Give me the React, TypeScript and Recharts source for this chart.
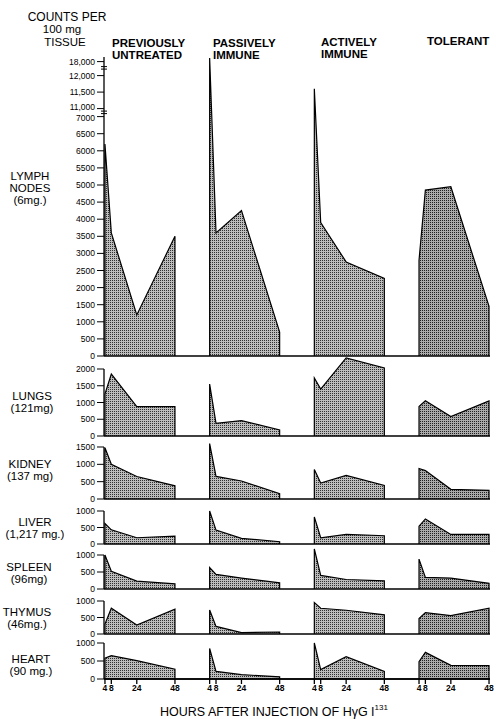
import React from 'react';
import { AreaChart, Area, XAxis, YAxis, ReferenceLine } from 'recharts';

// ---------- data ----------
const hours = [4, 8, 24, 48];
const hourLabels = ['4', '8', '24', '48'];
const groupTitles = [['PREVIOUSLY', 'UNTREATED'], ['PASSIVELY', 'IMMUNE'], ['ACTIVELY', 'IMMUNE'], ['TOLERANT']];

// each organ: [previously untreated, passively immune, actively immune, tolerant] at hours 4, 8, 24, 48
const lymphNodes = [
  [6200, 3600, 1200, 3500],
  [19500, 3600, 4250, 700],
  [11600, 3900, 2750, 2270],
  [2800, 4850, 4950, 1450],
];
const lungs = [
  [1250, 1850, 875, 875],
  [1550, 380, 460, 180],
  [1730, 1400, 2330, 2030],
  [880, 1050, 580, 1050],
];
const kidney = [
  [1480, 1000, 650, 380],
  [1600, 650, 520, 150],
  [850, 460, 680, 390],
  [880, 820, 280, 250],
];
const liver = [
  [620, 430, 190, 240],
  [1000, 420, 170, 70],
  [820, 190, 290, 250],
  [540, 760, 290, 290],
];
const spleen = [
  [1000, 520, 230, 150],
  [630, 430, 320, 180],
  [1180, 400, 280, 240],
  [880, 340, 320, 165],
];
const thymus = [
  [300, 780, 270, 750],
  [730, 230, 40, 60],
  [950, 780, 720, 580],
  [470, 650, 560, 780],
];
const heart = [
  [580, 650, 510, 270],
  [850, 210, 120, 60],
  [1000, 260, 620, 210],
  [480, 740, 380, 370],
];

const lymphTicksRaw = [0, 500, 1000, 1500, 2000, 2500, 3000, 3500, 4000, 4500, 5000, 5500, 6000, 6500, 7000, 11000, 11500, 12000, 18000];
const lymphTickLabels = ['0', '500', '1000', '1500', '2000', '2500', '3000', '3500', '4000', '4500', '5000', '5500', '6000', '6500', '7000', '11,000', '11,500', '12,000', '18,000'];
const lymphAxisTopRaw = 20000;
const lungsTicks = [0, 500, 1000, 1500, 2000];
const kidneyTicks = [0, 500, 1000, 1500];
const smallTicks = [0, 500, 1000];

const organLabels = [
  ['LYMPH', 'NODES', '(6mg.)'],
  ['LUNGS', '(121mg)'],
  ['KIDNEY', '(137 mg)'],
  ['LIVER', '(1,217 mg.)'],
  ['SPLEEN', '(96mg)'],
  ['THYMUS', '(46mg.)'],
  ['HEART', '(90 mg.)'],
];

// ---------- layout ----------
const W = 496;
const H = 719;
const FONT = 'Liberation Sans, Arial, sans-serif';
const PLOT_LEFT = 104;
const PLOT_RIGHT = 490;
const PX_PER_H = 1.591;
const GROUP_SPAN = 65.8;
const X0 = 3.4;
const X1 = X0 + (PLOT_RIGHT - PLOT_LEFT) / PX_PER_H;

// broken lymph-node axis: 0-7000 | 11,000-12,000 | 18,000+
function lymphAxis(v: number): number {
  if (v <= 7000) return v;
  if (v <= 12000) return 7234 + (v - 11000) * 0.965;
  return 8199 + (v - 12000) * 0.0682;
}
const ident = (v: number) => v;

const rowLayout = [
  { top: 48, base: 356, unitPx: 0.0342, labelX: 30, labelY: [180, 192, 204] },
  { top: 355, base: 436, unitPx: 0.0335, labelX: 32, labelY: [400, 412] },
  { top: 440, base: 499, unitPx: 0.03467, labelX: 30, labelY: [468, 480] },
  { top: 505, base: 544, unitPx: 0.033, labelX: 35, labelY: [526, 538] },
  { top: 545, base: 589, unitPx: 0.034, labelX: 29, labelY: [571, 583] },
  { top: 596, base: 634, unitPx: 0.033, labelX: 27, labelY: [616, 628] },
  { top: 638, base: 679, unitPx: 0.036, labelX: 31, labelY: [663, 675] },
];

const rowsSpec = [
  { series: lymphNodes, map: lymphAxis, ticks: lymphTicksRaw.map(lymphAxis), labels: lymphTickLabels, axisTop: lymphAxis(lymphAxisTopRaw), breaks: [15, 18] },
  { series: lungs, map: ident, ticks: lungsTicks, labels: lungsTicks.map(String), axisTop: 2000, breaks: [] },
  { series: kidney, map: ident, ticks: kidneyTicks, labels: kidneyTicks.map(String), axisTop: 1500, breaks: [] },
  { series: liver, map: ident, ticks: smallTicks, labels: smallTicks.map(String), axisTop: 1000, breaks: [] },
  { series: spleen, map: ident, ticks: smallTicks, labels: smallTicks.map(String), axisTop: 1000, breaks: [] },
  { series: thymus, map: ident, ticks: smallTicks, labels: smallTicks.map(String), axisTop: 1000, breaks: [] },
  { series: heart, map: ident, ticks: smallTicks, labels: smallTicks.map(String), axisTop: 1000, breaks: [] },
];

const xTicks: number[] = [];
const xTickLabels: string[] = [];
groupTitles.forEach((_, g) => {
  hours.forEach((h, i) => {
    xTicks.push(g * GROUP_SPAN + h);
    xTickLabels.push(hourLabels[i]);
  });
});

function buildTable(series: number[][], map: (v: number) => number) {
  const keys = series.map((_, g) => 's' + g);
  const rows: any[] = [];
  series.forEach((vals, g) => {
    const off = g * GROUP_SPAN;
    const mk = (x: number, v: number) => {
      const r: any = { x };
      keys.forEach((k) => (r[k] = null));
      r[keys[g]] = v;
      return r;
    };
    rows.push(mk(off + hours[0], 0));
    hours.forEach((h, i) => rows.push(mk(off + h, map(vals[i]))));
    rows.push(mk(off + hours[hours.length - 1], 0));
  });
  return rows;
}

function Row({ idx }: { idx: number }) {
  const spec = rowsSpec[idx];
  const lay = rowLayout[idx];
  const isLast = idx === rowsSpec.length - 1;
  const mt = 2;
  const plotH = lay.base - lay.top;
  const dMax = plotH / lay.unitPx;
  const xAxisH = isLast ? 30 : 0;
  const mb = isLast ? 0 : 7;
  const height = mt + plotH + xAxisH + mb;
  const data = buildTable(spec.series, spec.map);
  const pid = 'dots' + idx;
  const pidDark = 'dotsDark' + idx;

  const renderTick = (p: any) => {
    const i = p.index;
    const y = p.y;
    const isBreak = spec.breaks.includes(i);
    const o1 = i === 18 ? 5 : 2.5;
    const o2 = i === 18 ? 7.5 : 5;
    const dy = idx === 0 && i === 15 ? 1.8 : idx === 0 && i === 14 ? 4.2 : 3;
    return (
      <g>
        <text x={p.x} y={y} dy={dy} textAnchor="end" fontSize={8.5} fontFamily={FONT} fill="#000">
          {spec.labels[i]}
        </text>
        {isBreak && (
          <g stroke="#000" strokeWidth={1}>
            <line x1={PLOT_LEFT - 3} x2={PLOT_LEFT + 3} y1={y + o1} y2={y + o1} />
            <line x1={PLOT_LEFT - 3} x2={PLOT_LEFT + 3} y1={y + o2} y2={y + o2} />
          </g>
        )}
      </g>
    );
  };

  return (
    <div style={{ position: 'absolute', left: 0, top: lay.top - mt, width: W, height }}>
      <AreaChart
        width={W}
        height={height}
        data={data}
        margin={{ top: mt, right: W - PLOT_RIGHT, left: 0, bottom: mb }}
      >
        <defs>
          <pattern id={pid} width={2} height={2} patternUnits="userSpaceOnUse">
            <rect width={2} height={2} fill="#bcbcbc" />
            <rect width={1} height={1} fill="#303030" />
          </pattern>
          <pattern id={pidDark} width={2} height={2} patternUnits="userSpaceOnUse">
            <rect width={2} height={2} fill="#aaaaaa" />
            <rect width={1} height={1} fill="#202020" />
          </pattern>
        </defs>
        <XAxis
          type="number"
          dataKey="x"
          domain={[X0, X1]}
          hide={!isLast}
          height={xAxisH}
          ticks={xTicks}
          interval={0}
          tickFormatter={(_v: any, i: number) => xTickLabels[i]}
          tickSize={5}
          tickMargin={1}
          axisLine={{ stroke: '#000', strokeWidth: 1.3 }}
          tickLine={{ stroke: '#000', strokeWidth: 1.3 }}
          tick={{ fontSize: 8.5, fontWeight: 'bold', fill: '#000', fontFamily: FONT }}
        />
        <YAxis
          type="number"
          domain={[0, dMax]}
          ticks={spec.ticks}
          interval={0}
          width={PLOT_LEFT}
          axisLine={false}
          tickSize={7}
          tickMargin={2}
          tickLine={{ stroke: '#000', strokeWidth: 1 }}
          tick={renderTick}
        />
        <ReferenceLine y={0} stroke="#000" strokeWidth={1.3} ifOverflow="visible" />
        <ReferenceLine
          segment={[{ x: X0, y: 0 }, { x: X0, y: spec.axisTop }]}
          stroke="#000"
          strokeWidth={1.3}
          ifOverflow="visible"
        />
        {spec.series.map((_, g) => (
          <Area
            key={g}
            type="linear"
            dataKey={'s' + g}
            stroke="#000"
            strokeWidth={1.2}
            fill={`url(#${g === 3 ? pidDark : pid})`}
            fillOpacity={1}
            connectNulls={false}
            dot={false}
            activeDot={false}
            isAnimationActive={false}
          />
        ))}
      </AreaChart>
    </div>
  );
}

export default function App() {
  const headerX = [112, 213, 321, 427];
  const headerY = [[47, 59], [47, 59], [46, 58], [45]];
  return (
    <div style={{ position: 'absolute', left: 0, top: 0, width: W, height: H, background: '#fff', fontFamily: FONT }}>
      <svg width={W} height={H} style={{ position: 'absolute', left: 0, top: 0 }}>
        <g fontFamily={FONT} fill="#000">
          <text x={67} y={21} fontSize={12} textAnchor="middle">COUNTS PER</text>
          <text x={62} y={33} fontSize={11.5} textAnchor="middle">100 mg</text>
          <text x={65} y={46} fontSize={11.5} textAnchor="middle">TISSUE</text>
          {groupTitles.map((lines, g) =>
            lines.map((t, j) => (
              <text key={g + '-' + j} x={headerX[g]} y={headerY[g][j]} fontSize={11.5} fontWeight="bold">
                {t}
              </text>
            ))
          )}
          {organLabels.map((lines, r) =>
            lines.map((t, j) => (
              <text key={r + '-' + j} x={rowLayout[r].labelX} y={rowLayout[r].labelY[j]} fontSize={11.5} textAnchor="middle">
                {t}
              </text>
            ))
          )}
          <text x={160} y={716} fontSize={12.5}>
            HOURS AFTER INJECTION OF HγG I
            <tspan fontSize={8} dy={-6}>131</tspan>
          </text>
        </g>
      </svg>
      {rowsSpec.map((_, i) => (
        <Row key={i} idx={i} />
      ))}
    </div>
  );
}
